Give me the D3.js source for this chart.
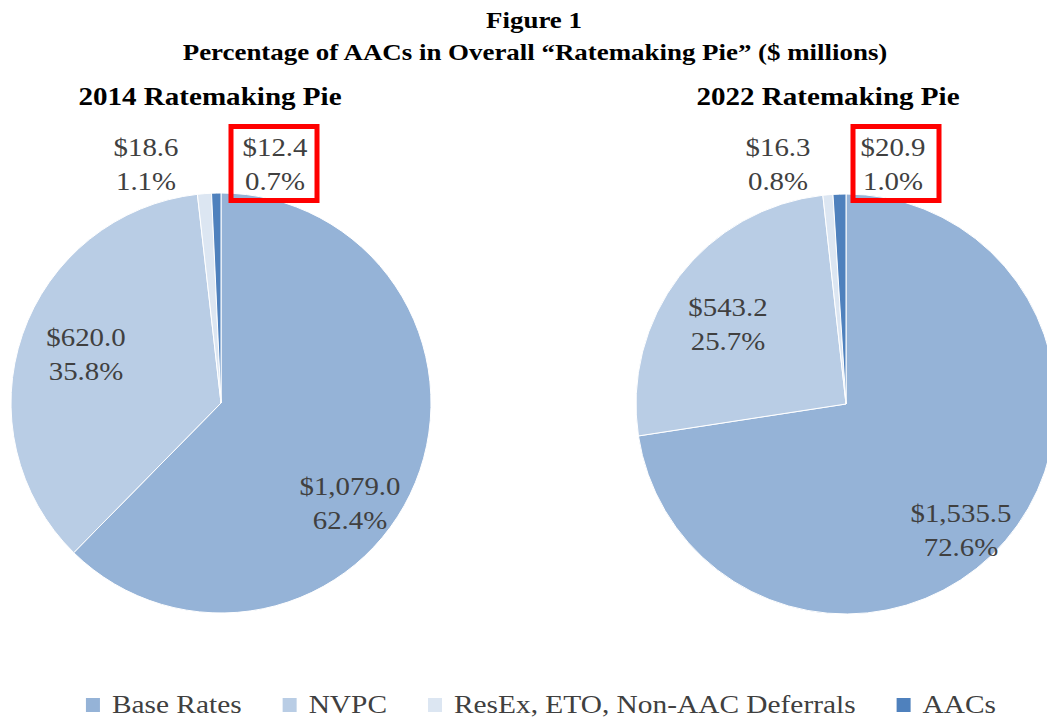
<!DOCTYPE html>
<html>
<head>
<meta charset="utf-8">
<script src="https://cdn.jsdelivr.net/npm/d3@7"></script>
<style>
  body { margin: 0; background: #fff; }
  text { font-family: "Liberation Serif", "Times New Roman", serif; }
</style>
</head>
<body>
<div id="chart"></div>
<script>
// data
const categories = ["Base Rates", "NVPC", "ResEx, ETO, Non-AAC Deferrals", "AACs"]
const values2014 = [1079.0, 620.0, 18.6, 12.4]
const pct2014 = [62.4, 35.8, 1.1, 0.7]
const values2022 = [1535.5, 543.2, 16.3, 20.9]
const pct2022 = [72.6, 25.7, 0.8, 1.0]
const colors = ["#95b3d7", "#b9cde5", "#dce6f2", "#4f81bd"]

const w = 1047
const h = 719
const r = 210

const svg = d3.select("#chart").append("svg")
  .attr("width", w)
  .attr("height", h)

// the source figure's type is a little wider than Liberation Serif, so stretch it sideways
const wideText = (parent, x, y, sx) => parent.append("g")
  .attr("transform", `translate(${x},${y}) scale(${sx},1)`)
  .append("text")

// titles
wideText(svg, 534, 28, 1.17)
  .attr("text-anchor", "middle")
  .style("font-weight", "bold").style("font-size", "23px")
  .text("Figure 1")
wideText(svg, 535, 60, 1.17)
  .attr("text-anchor", "middle")
  .style("font-weight", "bold").style("font-size", "23px")
  .text("Percentage of AACs in Overall \u201cRatemaking Pie\u201d ($ millions)")

const color = d3.scaleOrdinal().domain(categories).range(colors)
const pie = d3.pie().sort(null).value(d => d.value)
const arc = d3.arc().innerRadius(0).outerRadius(r)
const fmt = d3.format(",.1f")

// label offsets from pie centre (first line baseline), one per slice
const pies = [
  { title: "2014 Ratemaking Pie", cx: 221, cy: 403, tx: 210, values: values2014, pct: pct2014,
    lab: [[129, 92], [-135, -57], [-75, -247], [54, -247]], box: -44 },
  { title: "2022 Ratemaking Pie", cx: 846, cy: 404, tx: 828, values: values2022, pct: pct2022,
    lab: [[115, 118], [-118, -88], [-68, -248], [47, -248]], box: -40 }
]

pies.forEach(p => {
  wideText(svg, p.tx, 105, 1.14)
    .attr("text-anchor", "middle")
    .style("font-weight", "bold").style("font-size", "25.5px")
    .text(p.title)

  const g = svg.append("g").attr("transform", `translate(${p.cx},${p.cy})`)
  const data = categories.map((c, i) => ({ cat: c, value: p.values[i], pct: p.pct[i] }))

  g.selectAll("path")
    .data(pie(data))
    .enter()
    .append("path")
    .attr("d", arc)
    .attr("fill", d => color(d.data.cat))
    .attr("stroke", "#fff")
    .attr("stroke-width", 1)

  data.forEach((d, i) => {
    const [lx, ly] = p.lab[i]
    const t = wideText(g, lx, ly, 1.11)
      .attr("text-anchor", "middle")
      .style("font-size", "26px")
      .style("fill", "#404040")
    t.append("tspan").attr("x", 0).attr("y", 0).text("$" + fmt(d.value))
    t.append("tspan").attr("x", 0).attr("y", 34).text(d.pct.toFixed(1) + "%")

    // red highlight box round the AACs label
    if (d.cat === "AACs") {
      g.append("rect")
        .attr("x", lx + p.box).attr("y", ly - 29.5)
        .attr("width", 86).attr("height", 74)
        .attr("fill", "none")
        .attr("stroke", "#ff0000")
        .attr("stroke-width", 5)
    }
  })
})

// legend
const legend = svg.append("g").attr("class", "legend")
let lx = 0
categories.forEach(c => {
  const it = legend.append("g").attr("transform", `translate(${lx},0)`)
  it.append("rect")
    .attr("x", 0).attr("y", -15)
    .attr("width", 14).attr("height", 14)
    .attr("fill", color(c))
  const t = wideText(it, 26, 0, 1.13)
    .style("font-size", "26px")
    .style("fill", "#404040")
    .text(c)
  lx += 26 + t.node().getComputedTextLength() * 1.13 + 41
})
const lw = lx - 41
legend.attr("transform", `translate(${541 - lw / 2},713)`)
</script>
</body>
</html>
